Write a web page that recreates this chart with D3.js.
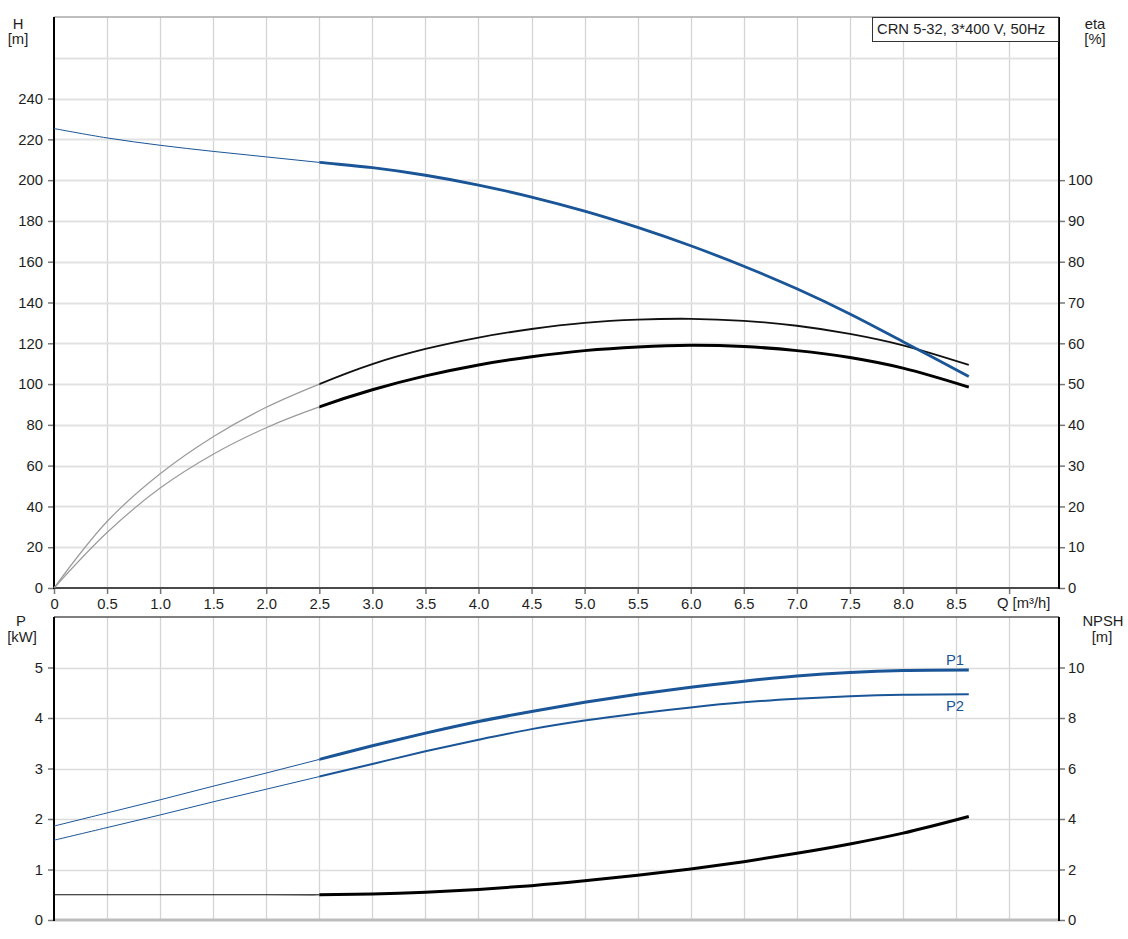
<!DOCTYPE html>
<html>
<head>
<meta charset="utf-8">
<script src="https://cdn.jsdelivr.net/npm/d3@7"></script>
<style>
  html, body { margin: 0; padding: 0; background: #fff; }
  svg { display: block; font-family: "Liberation Sans", Arial, sans-serif; }
</style>
</head>
<body>
<svg id="chart" width="1128" height="939"></svg>
<script>
// ---------- data ----------
const qLow  = [0, 0.5, 1.0, 1.5, 2.0, 2.5];
const qHigh = [2.5, 3.0, 3.5, 4.0, 4.5, 5.0, 5.5, 6.0, 6.5, 7.0, 7.5, 8.0, 8.62];

const headLow  = [225.3, 220.7, 217.1, 214.1, 211.4, 208.7];
const headHigh = [208.7, 206.1, 202.4, 197.6, 191.7, 184.8, 176.8, 167.8, 157.8, 146.7, 134.4, 120.8, 103.7];

const eta1Low  = [0, 16.3, 28.0, 37.1, 44.3, 50.0];
const eta1High = [50.0, 54.9, 58.6, 61.4, 63.5, 65.0, 65.8, 66.0, 65.5, 64.3, 62.3, 59.5, 54.7];
const eta2Low  = [0, 13.6, 24.5, 32.8, 39.3, 44.4];
const eta2High = [44.4, 48.6, 52.0, 54.7, 56.7, 58.2, 59.1, 59.5, 59.2, 58.2, 56.5, 53.9, 49.25];

const p1Low  = [1.86, 2.12, 2.38, 2.65, 2.91, 3.18];
const p1High = [3.18, 3.45, 3.70, 3.93, 4.13, 4.31, 4.47, 4.61, 4.73, 4.83, 4.90, 4.94, 4.95];
const p2Low  = [1.58, 1.83, 2.08, 2.34, 2.59, 2.84];
const p2High = [2.84, 3.09, 3.34, 3.57, 3.78, 3.95, 4.09, 4.21, 4.31, 4.38, 4.43, 4.46, 4.47];

const npshLow  = [1.0, 1.0, 1.0, 1.0, 1.0, 1.0];
const npshHigh = [1.0, 1.03, 1.10, 1.21, 1.36, 1.55, 1.77, 2.02, 2.31, 2.64, 3.01, 3.44, 4.10];

const qTicks    = [0, 0.5, 1.0, 1.5, 2.0, 2.5, 3.0, 3.5, 4.0, 4.5, 5.0, 5.5, 6.0, 6.5, 7.0, 7.5, 8.0, 8.5, 9.0];
const hTicks    = [0, 20, 40, 60, 80, 100, 120, 140, 160, 180, 200, 220, 240];
const etaTicks  = [0, 10, 20, 30, 40, 50, 60, 70, 80, 90, 100];
const pTicks    = [0, 1, 2, 3, 4, 5];
const npshTicks = [0, 2, 4, 6, 8, 10];
const hGrid     = [20, 40, 60, 80, 100, 120, 140, 160, 180, 200, 220, 240, 260];
const pGrid     = [1, 2, 3, 4, 5];

const legendText = "CRN 5-32, 3*400 V, 50Hz";

// ---------- layout ----------
const L = 54, R = 1059;
const T1 = 17, B1 = 588, T2 = 617, B2 = 920;
const BLUE = "#1a5597";
const TXT = "#1e1e1e";
const FS = "14.8px";

const svg = d3.select("#chart");

const x    = d3.scaleLinear().domain([0, 9.47]).range([L, R]);
const yH   = d3.scaleLinear().domain([0, 280]).range([B1, T1]);
const yEta = d3.scaleLinear().domain([0, 140]).range([B1, T1]);
const yP   = d3.scaleLinear().domain([0, 6]).range([B2, T2]);
const yN   = d3.scaleLinear().domain([0, 12]).range([B2, T2]);

// clip regions for thin (Q <= 2.5) and thick (Q >= 2.5) segments
const defs = svg.append("defs");
const qSplit = qHigh[0];
defs.append("clipPath").attr("id", "clipLow").append("rect")
  .attr("x", 0).attr("y", 0).attr("width", x(qSplit)).attr("height", 939);
defs.append("clipPath").attr("id", "clipHigh").append("rect")
  .attr("x", x(qSplit)).attr("y", 0).attr("width", 1128 - x(qSplit)).attr("height", 939);

// ---------- grids ----------
function vGrid(top, bottom) {
  svg.append("g").selectAll("line").data(qTicks.filter(d => d > 0))
    .join("line")
    .attr("x1", d => Math.round(x(d)) + 0.5).attr("x2", d => Math.round(x(d)) + 0.5)
    .attr("y1", top).attr("y2", bottom)
    .attr("stroke", "#d4d4d4").attr("stroke-width", 1.3);
}
vGrid(T1, B1);
vGrid(T2, B2);

svg.append("g").selectAll("line").data(hGrid).join("line")
  .attr("x1", L).attr("x2", R)
  .attr("y1", d => Math.round(yH(d)) + 0.5).attr("y2", d => Math.round(yH(d)) + 0.5)
  .attr("stroke", "#e2e2e2").attr("stroke-width", 2);
svg.append("g").selectAll("line").data(pGrid).join("line")
  .attr("x1", L).attr("x2", R)
  .attr("y1", d => Math.round(yP(d)) + 0.5).attr("y2", d => Math.round(yP(d)) + 0.5)
  .attr("stroke", "#dcdcdc").attr("stroke-width", 1.5);

// ---------- frames ----------
function hline(y, c, w) {
  svg.append("line").attr("x1", L).attr("x2", R).attr("y1", y).attr("y2", y)
    .attr("stroke", c).attr("stroke-width", w);
}
hline(T1, "#a8a8a8", 1.5);
hline(T2, "#555", 1.5);
hline(B2, "#bdbdbd", 3);

// ---------- axes ----------
function styleAxis(g) {
  g.select(".domain").remove();
  g.selectAll(".tick line").attr("stroke", "#777").attr("stroke-width", 1.5);
  g.selectAll(".tick text").attr("fill", TXT).style("font-size", FS)
    .style("font-family", '"Liberation Sans", Arial, sans-serif');
}

svg.append("g").attr("transform", `translate(${L},0)`)
  .call(d3.axisLeft(yH).tickValues(hTicks).tickSize(6).tickPadding(5).tickFormat(d3.format("d")))
  .call(styleAxis);
svg.append("g").attr("transform", `translate(${R},0)`)
  .call(d3.axisRight(yEta).tickValues(etaTicks).tickSize(6).tickPadding(3).tickFormat(d3.format("d")))
  .call(styleAxis);
svg.append("g").attr("transform", `translate(0,${B1})`)
  .call(d3.axisBottom(x).tickValues(qTicks).tickSize(6).tickPadding(4)
    .tickFormat(d => d === 0 ? "0" : (d === 9 ? "" : d.toFixed(1))))
  .call(styleAxis);

svg.append("g").attr("transform", `translate(${L},0)`)
  .call(d3.axisLeft(yP).tickValues(pTicks).tickSize(6).tickPadding(5).tickFormat(d3.format("d")))
  .call(styleAxis);
svg.append("g").attr("transform", `translate(${R},0)`)
  .call(d3.axisRight(yN).tickValues(npshTicks).tickSize(6).tickPadding(3).tickFormat(d3.format("d")))
  .call(styleAxis);

// axis lines
hline(B1, "#4a4a4a", 2);
function vline(xp, y1, y2) {
  svg.append("line").attr("x1", xp).attr("x2", xp).attr("y1", y1).attr("y2", y2)
    .attr("stroke", "#000").attr("stroke-width", 2);
}
vline(L, T1, B1 + 1); vline(R, T1, B1 + 1);
vline(L, T2, B2 + 1); vline(R, T2, B2 + 1);

// ---------- axis titles ----------
function label(txt, xp, yp, anchor, color) {
  svg.append("text").attr("x", xp).attr("y", yp).attr("text-anchor", anchor || "middle")
    .attr("fill", color || TXT).style("font-size", FS).text(txt);
}
label("H", 18, 29); label("[m]", 18, 44);
label("eta", 1095, 29); label("[%]", 1095, 44);
label("P", 21, 626); label("[kW]", 22, 642);
label("NPSH", 1103, 626); label("[m]", 1102, 642);
label("Q [m³/h]", 997, 608, "start");

// ---------- legend box ----------
svg.append("rect").attr("x", 872.5).attr("y", 17.5).attr("width", 186).attr("height", 24)
  .attr("fill", "#fff").attr("stroke", "#333").attr("stroke-width", 1);
label(legendText, 877, 34, "start");

// ---------- curves ----------
// one smooth curve per series; thin style left of Q=2.5, thick style right of it
function series(low, high, ys, thinColor, thinW, thickColor, thickW) {
  const qs = qLow.concat(qHigh.slice(1));
  const vs = low.concat(high.slice(1));
  const line = d3.line().x((d, i) => x(qs[i])).y(d => ys(d)).curve(d3.curveCatmullRom.alpha(0.5));
  svg.append("path").datum(vs).attr("d", line).attr("clip-path", "url(#clipLow)")
    .attr("fill", "none").attr("stroke", thinColor).attr("stroke-width", thinW);
  svg.append("path").datum(vs).attr("d", line).attr("clip-path", "url(#clipHigh)")
    .attr("fill", "none").attr("stroke", thickColor).attr("stroke-width", thickW);
}

series(eta1Low, eta1High, yEta, "#9a9a9a", 1.2, "#111", 1.8);
series(eta2Low, eta2High, yEta, "#9a9a9a", 1.2, "#000", 3);
series(headLow, headHigh, yH, BLUE, 1, BLUE, 2.8);

series(p1Low, p1High, yP, BLUE, 1, BLUE, 3);
series(p2Low, p2High, yP, BLUE, 1, BLUE, 2);
series(npshLow, npshHigh, yN, "#111", 1.2, "#000", 3);

label("P1", 946, 665, "start", BLUE);
label("P2", 946, 711, "start", BLUE);
</script>
</body>
</html>
